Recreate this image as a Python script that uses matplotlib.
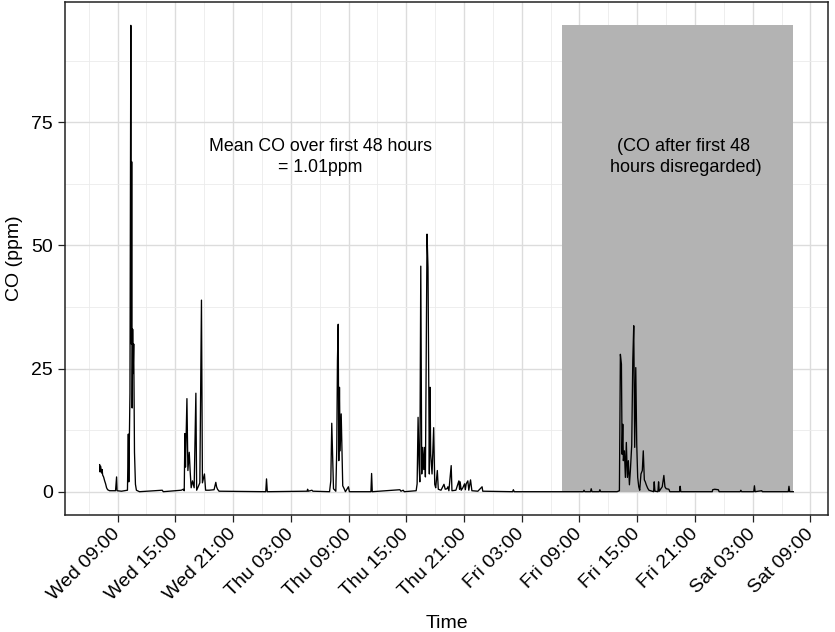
import numpy as np
import pandas as pd
import matplotlib
matplotlib.use("Agg")
import matplotlib.pyplot as plt
import matplotlib.dates as mdates

plt.rcParams['font.family'] = ['Liberation Sans', 'DejaVu Sans']

# hours since Wed 00:00 and CO readings (ppm)
hours = [7.14, 7.19, 7.24, 7.35, 7.40, 7.45, 7.55, 7.66, 7.76, 7.86, 7.97, 8.17,
         8.79, 8.90, 8.95, 9.41, 10.03, 10.12, 10.17, 10.29, 10.38, 10.43, 10.47,
         10.52, 10.57, 10.62, 10.68, 10.76, 10.86, 10.96, 11.28, 13.65, 13.75,
         15.62, 15.83, 15.93, 16.00, 16.06, 16.21, 16.31, 16.45, 16.55, 16.65,
         16.79, 16.96, 17.14, 17.22, 17.38, 17.55, 17.72, 17.82, 18.03, 18.15,
         18.51, 19.03, 19.21, 19.29, 19.39, 19.55, 24.40, 24.48, 24.56, 28.70,
         28.75, 28.82, 29.20, 29.30, 31.03, 31.16, 31.26, 31.34, 31.44, 31.68,
         31.78, 31.85, 31.93, 31.99, 32.06, 32.13, 32.24, 32.34, 32.40, 32.55,
         32.68, 32.99, 33.09, 35.33, 35.40, 35.47, 38.34, 38.45, 38.68, 38.80,
         40.03, 40.13, 40.23, 40.33, 40.41, 40.51, 40.61, 40.72, 40.82, 40.92,
         40.99, 41.16, 41.26, 41.40, 41.47, 41.54, 41.68, 41.85, 41.96, 42.06,
         42.23, 42.33, 42.61, 42.92, 43.05, 43.23, 43.33, 43.43, 43.67, 43.75,
         44.16, 44.47, 44.54, 44.60, 44.71, 44.88, 45.06, 45.14, 45.23, 45.40,
         45.50, 45.68, 45.82, 46.44, 46.88, 46.95, 50.05, 50.13, 50.22, 57.40,
         57.47, 57.55, 58.15, 58.22, 58.30, 59.05, 59.12, 59.20, 60.91, 61.15,
         61.25, 61.36, 61.43, 61.50, 61.56, 61.67, 61.77, 61.87, 61.98, 62.08,
         62.19, 62.29, 62.43, 62.54, 62.64, 62.74, 62.85, 62.95, 63.05, 63.16,
         63.26, 63.39, 63.53, 63.63, 63.74, 63.84, 63.94, 64.09, 64.22, 64.53,
         64.70, 64.77, 64.84, 65.15, 65.22, 65.29, 65.60, 65.77, 65.88, 66.01,
         66.29, 66.39, 67.40, 67.46, 67.53, 70.80, 70.84, 71.05, 71.43, 71.51,
         73.70, 73.77, 73.84, 75.11, 75.18, 75.25, 75.94, 76.00, 78.70, 78.77,
         78.84, 79.22]
co = [5.5, 4.0, 5.2, 3.8, 4.5, 3.4, 3.0, 2.2, 1.6, 0.8, 0.4, 0.2,
      0.2, 3.0, 0.2, 0.1, 0.3, 11.7, 2.0, 20.0, 94.7, 30.0, 67.0,
      17.0, 33.0, 24.0, 30.0, 8.0, 1.5, 0.3, 0.0, 0.3, 0.0,
      0.3, 0.5, 0.2, 11.8, 5.0, 18.9, 4.3, 8.0, 4.0, 0.8,
      2.2, 0.8, 20.0, 0.3, 1.0, 1.8, 38.9, 1.8, 3.6, 0.3,
      0.3, 0.4, 1.9, 1.0, 0.5, 0.1, 0.0, 2.6, 0.0, 0.1,
      0.5, 0.1, 0.3, 0.1, 0.0, 2.2, 13.9, 8.0, 0.6, 0.1,
      8.7, 26.6, 34.0, 6.3, 21.2, 8.3, 15.8, 6.0, 1.2, 0.6,
      0.0, 1.0, 0.0, 0.0, 3.7, 0.0, 0.4, 0.1, 0.3, 0.0,
      0.2, 1.6, 15.1, 5.7, 2.0, 45.8, 3.6, 9.0, 4.5, 9.0,
      3.0, 52.3, 45.5, 3.6, 21.2, 7.7, 3.6, 13.0, 1.5, 0.8,
      4.3, 0.5, 0.3, 1.5, 0.5, 0.6, 1.0, 0.2, 5.3, 0.2,
      0.3, 2.2, 0.5, 2.0, 0.3, 0.8, 1.6, 0.4, 1.6, 2.2,
      0.3, 2.4, 0.2, 0.1, 1.0, 0.1, 0.0, 0.4, 0.0, 0.0,
      0.3, 0.0, 0.0, 0.6, 0.0, 0.0, 0.4, 0.0, 0.0, 0.2,
      27.9, 25.9, 7.6, 13.7, 6.3, 8.3, 2.9, 10.0, 2.9, 6.3,
      1.4, 4.3, 9.5, 26.6, 33.7, 9.0, 25.2, 9.7, 2.9, 1.0,
      0.3, 3.6, 4.3, 8.3, 2.4, 2.0, 1.4, 0.7, 0.3, 0.1,
      0.0, 2.0, 0.1, 0.0, 2.0, 0.1, 1.0, 3.3, 1.0, 0.6,
      0.5, 0.0, 0.0, 1.1, 0.0, 0.0, 0.4, 0.5, 0.4, 0.0,
      0.0, 0.3, 0.0, 0.0, 1.2, 0.0, 0.2, 0.0, 0.0, 1.1,
      0.0, 0.0]

cutoff_hours = 48
mean_label = "Mean CO over first 48 hours\n= 1.01ppm"
grey_label = "(CO after first 48 \nhours disregarded)"
label_y = 68
mean_label_hour = 30.1
grey_label_hour = 68.05

base = pd.Timestamp("2019-01-02")  # a Wednesday
times = base + pd.to_timedelta(hours, unit="h")
co = np.array(co)

fig = plt.figure(figsize=(8.35, 6.32), dpi=100)
ax = fig.add_axes([0.0778, 0.1851, 0.9138, 0.8117])

t0, t1 = times[0], times[-1]
span = t1 - t0
ax.set_xlim(t0 - span * 0.05, t1 + span * 0.05)
ymax = co.max()
ax.set_ylim(-0.05 * ymax, 1.05 * ymax)

# grid
ax.set_axisbelow(True)
ax.xaxis.set_major_locator(mdates.HourLocator(byhour=[3, 9, 15, 21]))
ax.xaxis.set_minor_locator(mdates.HourLocator(byhour=[0, 6, 12, 18]))
ax.xaxis.set_major_formatter(mdates.DateFormatter("%a %H:%M"))
ax.set_yticks([0, 25, 50, 75])
ax.set_yticks([12.5, 37.5, 62.5, 87.5], minor=True)
ax.grid(which="major", color="#dcdcdc", linewidth=1.0)
ax.grid(which="minor", color="#ebebeb", linewidth=0.6)

# shaded region after first 48 hours
ax.fill_between([t0 + pd.Timedelta(hours=cutoff_hours), t1], 0, ymax,
                color="#b3b3b3", linewidth=0, zorder=1)

ax.plot(times, co, color="black", linewidth=0.95, zorder=2)

ax.text(base + pd.Timedelta(hours=mean_label_hour), label_y, mean_label,
        ha="center", va="center", fontsize=12.8, linespacing=1.35, zorder=3)
ax.text(base + pd.Timedelta(hours=grey_label_hour), label_y, grey_label,
        ha="center", va="center", fontsize=13, linespacing=1.35, zorder=3)

for s in ax.spines.values():
    s.set_color("#222222")
    s.set_linewidth(1.1)
ax.tick_params(which="major", direction="out", length=5, width=0.9,
               color="#222222", labelsize=14, labelcolor="black")
ax.tick_params(axis="x", which="major", pad=7)
ax.tick_params(which="minor", length=0)
plt.setp(ax.get_xticklabels(), rotation=45, ha="right", va="center",
         rotation_mode="anchor")

ax.set_xlabel("Time", fontsize=14, labelpad=8)
ax.set_ylabel("CO (ppm)", fontsize=14, labelpad=6)

fig.savefig("out.png", dpi=100)
